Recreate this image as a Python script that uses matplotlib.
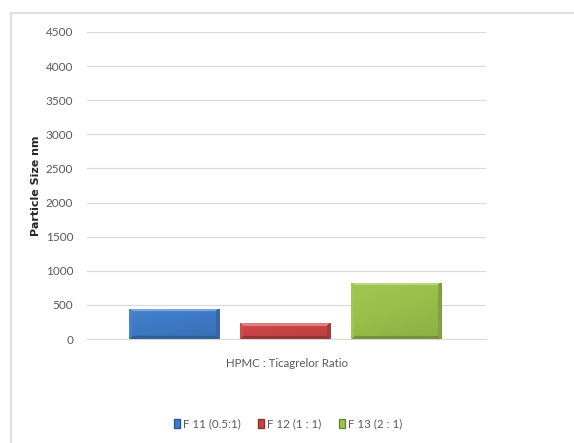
import numpy as np
import matplotlib
matplotlib.use("Agg")
import matplotlib.pyplot as plt
from matplotlib.patches import Rectangle
from matplotlib.colors import to_rgb

plt.rcParams['font.family'] = ['Lato', 'DejaVu Sans']

# data
labels = ["F 11 (0.5:1)", "F 12 (1 : 1)", "F 13 (2 : 1)"]
sizes = [440, 230, 825]
colors = ["#3F7CC8", "#CC4545", "#9CC24B"]
yticks = [0, 500, 1000, 1500, 2000, 2500, 3000, 3500, 4000, 4500]

fig = plt.figure(figsize=(5.74, 4.43), dpi=100)
W, H = 574, 443

# light frame round the chart area, like the Excel chart border
fig.patches.append(Rectangle((11 / W, -0.05), 1.0, 1 - 13 / H + 0.05,
                             transform=fig.transFigure, fill=False,
                             edgecolor="#D9D9D9", linewidth=1.2))

ax = fig.add_axes([87 / W, 1 - 339 / H, 399 / W, 307 / H])
ax.set_xlim(-0.784, 2.811)
ax.set_ylim(0, 4500)

x = np.arange(len(sizes))
width = 0.81


def shade(c, f):
    r = np.array(to_rgb(c))
    if f >= 0:
        return r + (1 - r) * f
    return r * (1 + f)


bars = ax.bar(x, sizes, width=width, color=colors, zorder=2)
for b, c in zip(bars, colors):
    # bevel effect, worked out in pixels of the bar
    x0, y0 = b.get_x(), b.get_y()
    p0 = ax.transData.transform((x0, y0))
    p1 = ax.transData.transform((x0 + b.get_width(), y0 + b.get_height()))
    nx = max(int(round(p1[0] - p0[0])), 2)
    ny = max(int(round(p1[1] - p0[1])), 2)
    I, J = np.meshgrid(np.arange(nx) + 0.5, np.arange(ny) + 0.5)  # J from bottom
    dl, dr = I, nx - I
    db, dt = J, ny - J
    f = 0.10 * (J / ny) - 0.05 - 0.05 * (I / nx)
    bev = 3.5
    m = np.minimum.reduce([dl, dr, db, dt])
    f = np.where((m == dt) & (dt < bev), 0.32, f)
    f = np.where((m == db) & (db < bev), -0.25, f)
    f = np.where((m == dl) & (dl < bev), 0.05, f)
    f = np.where((m == dr) & (dr < bev), -0.16, f)
    base = np.array(to_rgb(c))
    img = np.empty((ny, nx, 3))
    for k in range(3):
        img[..., k] = np.where(f >= 0, base[k] + (1 - base[k]) * f, base[k] * (1 + f))
    img = np.clip(img, 0, 1)
    im = ax.imshow(img, extent=(x0, x0 + b.get_width(), y0, y0 + b.get_height()),
                   origin="lower", aspect="auto", zorder=2.5, interpolation="bilinear")
    im.set_clip_path(b)
    b.set_edgecolor(shade(c, -0.3))
    b.set_linewidth(0.6)

ax.set_xlim(-0.784, 2.811)
ax.set_ylim(0, 4500)
ax.set_yticks(yticks)
ax.set_xticks([])
ax.grid(axis="y", color="#D9D9D9", linewidth=0.8, zorder=0)
for s in ["top", "right", "left"]:
    ax.spines[s].set_visible(False)
ax.spines["bottom"].set_color("#D9D9D9")
ax.tick_params(axis="y", length=0, pad=10, labelsize=8.5, labelcolor="#595959")
ax.set_ylabel("Particle Size nm", fontsize=8, fontweight="bold", color="#262626",
              labelpad=3, family="DejaVu Sans")
ax.set_xlabel("HPMC : Ticagrelor Ratio", fontsize=8.3, color="#595959", labelpad=14)

handles = [Rectangle((0, 0), 1, 1, facecolor=c, edgecolor=shade(c, -0.3))
           for c in colors]
fig.legend(handles, labels, loc="center", bbox_to_anchor=(288 / W, 1 - 424 / H),
           ncol=3, frameon=False, fontsize=8.3, handlelength=0.55, handleheight=0.8,
           handletextpad=0.25, columnspacing=1.5, labelcolor="#595959")

fig.savefig("out.png", dpi=100)
